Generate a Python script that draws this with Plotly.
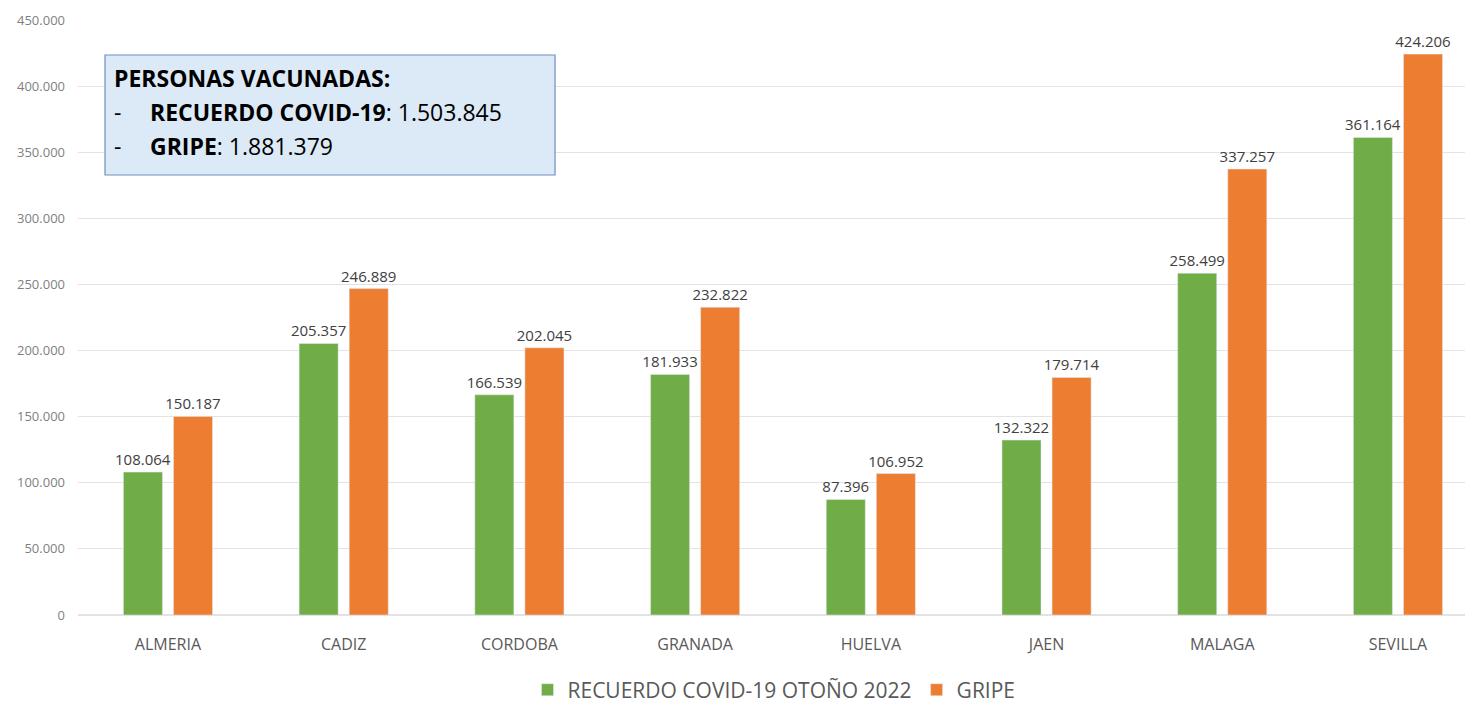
import plotly.graph_objects as go

provincias = ["ALMERIA", "CADIZ", "CORDOBA", "GRANADA", "HUELVA", "JAEN", "MALAGA", "SEVILLA"]
covid = [108064, 205357, 166539, 181933, 87396, 132322, 258499, 361164]
gripe = [150187, 246889, 202045, 232822, 106952, 179714, 337257, 424206]
serie_covid = "RECUERDO COVID-19 OTOÑO 2022"
serie_gripe = "GRIPE"
y_ticks = [0, 50000, 100000, 150000, 200000, 250000, 300000, 350000, 400000, 450000]

FONT = "Open Sans, Liberation Sans, sans-serif"

fig = go.Figure()
fig.add_trace(go.Bar(x=provincias, y=covid, name=serie_covid, marker_color="#70ad47",
                     texttemplate="%{y:,}", textposition="outside", cliponaxis=False,
                     constraintext="none", textfont=dict(size=15, color="#404040")))
fig.add_trace(go.Bar(x=provincias, y=gripe, name=serie_gripe, marker_color="#ed7d31",
                     texttemplate="%{y:,}", textposition="outside", cliponaxis=False,
                     constraintext="none", textfont=dict(size=15, color="#404040")))

fig.update_layout(
    width=1465, height=696,
    margin=dict(l=70, r=3, t=12, b=89, autoexpand=False),
    paper_bgcolor="white", plot_bgcolor="white",
    separators=",.",
    barmode="group", bargap=0.43, bargroupgap=0.22,
    font=dict(family=FONT, color="#595959"),
    legend=dict(orientation="h", xref="paper", x=0.5, xanchor="center",
                yref="container", y=0.02, yanchor="middle",
                font=dict(size=21, color="#595959"), itemwidth=30),
    xaxis=dict(range=[-0.512, 7.41], showline=False, ticks="", automargin=False,
               tickfont=dict(size=16, color="#595959"), ticklabelstandoff=18),
    yaxis=dict(range=[0, 450000], tickvals=y_ticks, tickformat=",", showgrid=True, automargin=False,
               gridcolor="#e3e3e3", zeroline=True, zerolinecolor="#e3e3e3",
               tickfont=dict(size=13, color="#7f7f7f"), ticklabelstandoff=12),
)

fig.add_shape(type="rect", xref="paper", yref="paper", x0=0.0194, x1=0.3427, y0=0.7395, y1=0.9412,
              fillcolor="#dce9f6", line=dict(color="#6f8fbf", width=1.2), layer="above")

fs = 23
fig.add_annotation(xref="paper", yref="paper", x=0.0244, y=0.9025, xanchor="left", yanchor="middle",
                   text="<b>PERSONAS VACUNADAS:</b>", showarrow=False,
                   font=dict(size=fs, color="#000000", family=FONT))
for ypos, label in [(0.8454, "<b>RECUERDO COVID-19</b>: 1.503.845"), (0.7882, "<b>GRIPE</b>: 1.881.379")]:
    fig.add_annotation(xref="paper", yref="paper", x=0.0244, y=ypos, xanchor="left", yanchor="middle",
                       text="-", showarrow=False, font=dict(size=fs, color="#000000", family=FONT))
    fig.add_annotation(xref="paper", yref="paper", x=0.0503, y=ypos, xanchor="left", yanchor="middle",
                       text=label, showarrow=False, font=dict(size=fs, color="#000000", family=FONT))

fig.write_html("out.html")
